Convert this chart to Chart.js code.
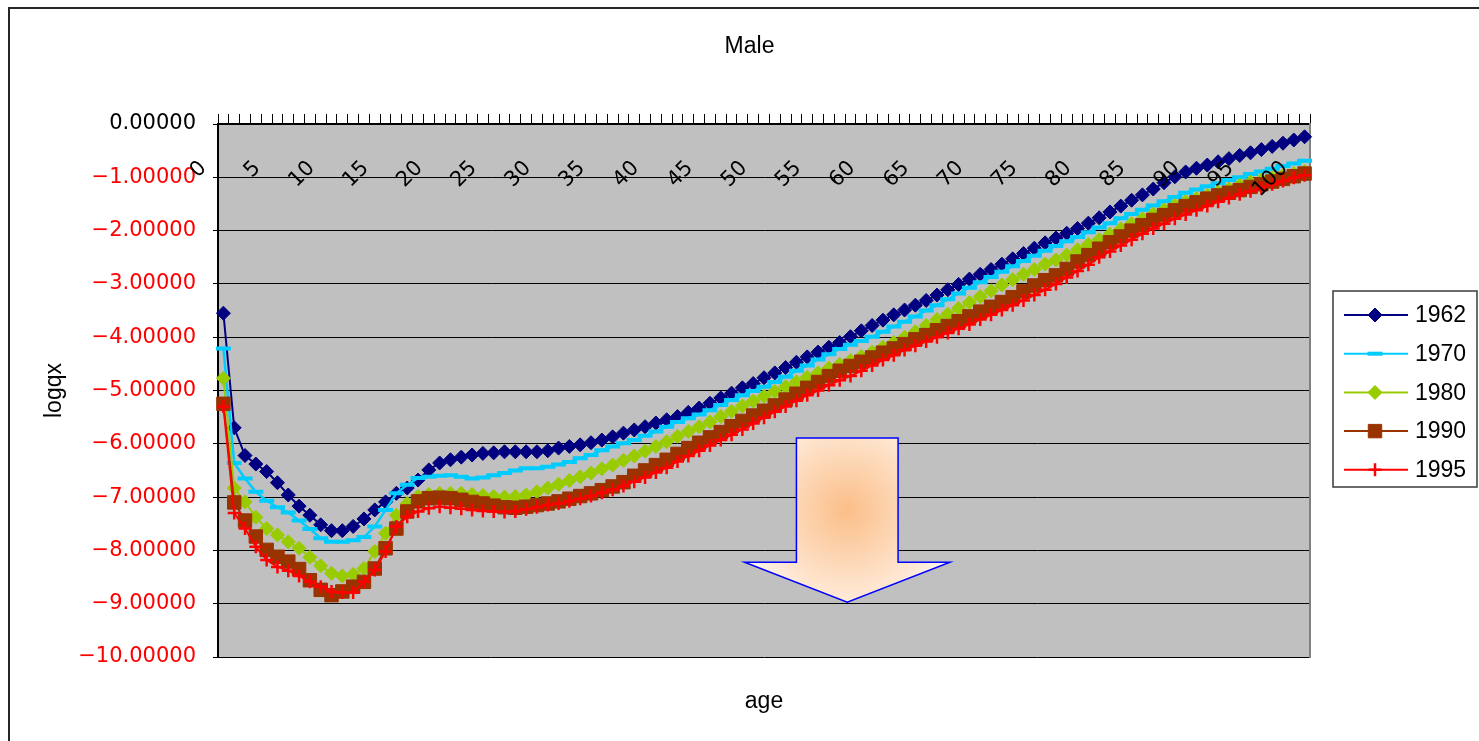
<!DOCTYPE html>
<html>
<head>
<meta charset="utf-8">
<title>Male logqx by age</title>
<script src="https://cdn.jsdelivr.net/npm/chart.js@4/dist/chart.umd.min.js"></script>
<style>
  html, body { margin: 0; padding: 0; background: #ffffff; overflow: hidden; width: 1479px; height: 741px; }
  #wrap { position: relative; width: 1479px; height: 741px; }
  #wrap canvas { position: absolute; left: 0; top: 0; }
  #frame { position: absolute; left: 8px; top: 7px; width: 1520px; height: 780px;
           border: 2px solid #262626; box-sizing: border-box; pointer-events: none; }
</style>
</head>
<body>
<div id="wrap">
  <canvas id="chart" width="1479" height="741"></canvas>
  <div id="frame"></div>
</div>
<script>
// Ages (categories)
const ages = [
  0, 1, 2, 3, 4, 5, 6, 7, 8, 9, 10, 11, 12, 13, 14, 15, 16, 17, 18, 19,
  20, 21, 22, 23, 24, 25, 26, 27, 28, 29, 30, 31, 32, 33, 34, 35, 36, 37, 38, 39,
  40, 41, 42, 43, 44, 45, 46, 47, 48, 49, 50, 51, 52, 53, 54, 55, 56, 57, 58, 59,
  60, 61, 62, 63, 64, 65, 66, 67, 68, 69, 70, 71, 72, 73, 74, 75, 76, 77, 78, 79,
  80, 81, 82, 83, 84, 85, 86, 87, 88, 89, 90, 91, 92, 93, 94, 95, 96, 97, 98, 99,
  100
];

// Ages that carry a label on the age axis
const xLabelAges = [0, 5, 10, 15, 20, 25, 30, 35, 40, 45, 50, 55, 60, 65, 70, 75, 80, 85, 90, 95, 100];

// logqx axis ticks
const yTickValues = [0, -1, -2, -3, -4, -5, -6, -7, -8, -9, -10];

// Series names
const years = ['1962', '1970', '1980', '1990', '1995'];

// logqx values per age
const logqx1962 = [
  -3.55, -5.70, -6.22, -6.38, -6.52, -6.73, -6.96, -7.17, -7.34, -7.52,
  -7.63, -7.63, -7.55, -7.41, -7.24, -7.09, -6.93, -6.83, -6.68, -6.49,
  -6.36, -6.30, -6.25, -6.21, -6.18, -6.17, -6.15, -6.15, -6.15, -6.15,
  -6.13, -6.08, -6.05, -6.02, -5.98, -5.93, -5.87, -5.80, -5.74, -5.68,
  -5.61, -5.55, -5.49, -5.41, -5.33, -5.24, -5.14, -5.05, -4.95, -4.87,
  -4.76, -4.67, -4.57, -4.47, -4.37, -4.28, -4.19, -4.10, -3.99, -3.88,
  -3.78, -3.68, -3.58, -3.49, -3.40, -3.31, -3.21, -3.11, -3.01, -2.91,
  -2.82, -2.73, -2.63, -2.53, -2.43, -2.33, -2.23, -2.14, -2.05, -1.96,
  -1.86, -1.76, -1.65, -1.54, -1.43, -1.33, -1.22, -1.10, -0.99, -0.90,
  -0.83, -0.77, -0.71, -0.65, -0.59, -0.54, -0.48, -0.42, -0.36, -0.30,
  -0.24
];
const logqx1970 = [
  -4.21, -6.36, -6.65, -6.90, -7.07, -7.19, -7.29, -7.44, -7.60, -7.77,
  -7.84, -7.84, -7.81, -7.75, -7.55, -7.24, -6.93, -6.77, -6.64, -6.62,
  -6.60, -6.59, -6.62, -6.65, -6.63, -6.59, -6.55, -6.50, -6.46, -6.46,
  -6.43, -6.39, -6.34, -6.27, -6.21, -6.12, -6.05, -5.99, -5.93, -5.85,
  -5.77, -5.68, -5.59, -5.52, -5.45, -5.37, -5.27, -5.18, -5.09, -5.01,
  -4.93, -4.84, -4.74, -4.63, -4.53, -4.42, -4.32, -4.22, -4.14, -4.07,
  -3.99, -3.90, -3.80, -3.71, -3.61, -3.50, -3.40, -3.29, -3.18, -3.07,
  -2.97, -2.87, -2.77, -2.67, -2.57, -2.47, -2.38, -2.29, -2.20, -2.12,
  -2.03, -1.94, -1.86, -1.77, -1.69, -1.61, -1.53, -1.45, -1.37, -1.29,
  -1.23, -1.17, -1.11, -1.05, -1.00, -0.94, -0.89, -0.84, -0.79, -0.74,
  -0.69
];
const logqx1980 = [
  -4.77, -6.83, -7.09, -7.38, -7.59, -7.71, -7.84, -7.96, -8.13, -8.29,
  -8.43, -8.48, -8.45, -8.34, -8.02, -7.68, -7.34, -7.12, -6.99, -6.95,
  -6.93, -6.93, -6.93, -6.95, -6.97, -6.99, -7.00, -6.99, -6.96, -6.90,
  -6.83, -6.76, -6.69, -6.62, -6.55, -6.47, -6.40, -6.31, -6.23, -6.14,
  -6.05, -5.96, -5.86, -5.77, -5.68, -5.59, -5.49, -5.39, -5.29, -5.20,
  -5.11, -5.02, -4.93, -4.84, -4.75, -4.67, -4.58, -4.51, -4.44, -4.36,
  -4.28, -4.19, -4.10, -4.00, -3.90, -3.78, -3.67, -3.57, -3.46, -3.35,
  -3.24, -3.13, -3.02, -2.92, -2.82, -2.73, -2.63, -2.55, -2.46, -2.36,
  -2.26, -2.17, -2.07, -1.97, -1.87, -1.78, -1.69, -1.61, -1.53, -1.46,
  -1.40, -1.34, -1.28, -1.22, -1.15, -1.09, -1.05, -1.01, -0.97, -0.93,
  -0.89
];
const logqx1990 = [
  -5.25, -7.10, -7.44, -7.74, -7.99, -8.12, -8.21, -8.35, -8.56, -8.74,
  -8.84, -8.77, -8.68, -8.59, -8.34, -7.96, -7.59, -7.27, -7.08, -7.02,
  -7.01, -7.02, -7.05, -7.09, -7.12, -7.16, -7.19, -7.20, -7.18, -7.15,
  -7.12, -7.08, -7.03, -6.98, -6.93, -6.87, -6.80, -6.72, -6.60, -6.50,
  -6.40, -6.30, -6.19, -6.08, -5.98, -5.88, -5.78, -5.67, -5.57, -5.47,
  -5.38, -5.28, -5.17, -5.06, -4.95, -4.84, -4.73, -4.63, -4.54, -4.46,
  -4.38, -4.29, -4.21, -4.13, -4.04, -3.96, -3.87, -3.79, -3.70, -3.61,
  -3.52, -3.43, -3.34, -3.25, -3.14, -3.03, -2.93, -2.84, -2.72, -2.58,
  -2.46, -2.34, -2.22, -2.11, -2.00, -1.90, -1.80, -1.71, -1.62, -1.54,
  -1.47, -1.40, -1.34, -1.29, -1.24, -1.18, -1.13, -1.08, -1.03, -0.98,
  -0.93
];
const logqx1995 = [
  -5.30, -7.30, -7.59, -7.93, -8.18, -8.31, -8.38, -8.48, -8.59, -8.68,
  -8.77, -8.79, -8.79, -8.59, -8.37, -8.02, -7.55, -7.37, -7.27, -7.21,
  -7.18, -7.20, -7.22, -7.24, -7.26, -7.27, -7.28, -7.27, -7.23, -7.19,
  -7.15, -7.12, -7.08, -7.03, -6.98, -6.92, -6.86, -6.79, -6.71, -6.63,
  -6.54, -6.45, -6.33, -6.23, -6.13, -6.03, -5.93, -5.83, -5.73, -5.62,
  -5.51, -5.40, -5.30, -5.19, -5.09, -5.00, -4.90, -4.81, -4.73, -4.63,
  -4.53, -4.43, -4.34, -4.24, -4.16, -4.08, -4.00, -3.92, -3.84, -3.76,
  -3.67, -3.58, -3.49, -3.40, -3.31, -3.21, -3.11, -3.00, -2.88, -2.76,
  -2.64, -2.50, -2.39, -2.28, -2.17, -2.06, -1.96, -1.87, -1.78, -1.70,
  -1.62, -1.54, -1.46, -1.39, -1.32, -1.26, -1.20, -1.13, -1.07, -1.01,
  -0.96
];

const seriesValues = [logqx1962, logqx1970, logqx1980, logqx1990, logqx1995];

// Line and marker style for each year
const seriesStyles = [
  { color: '#000080', pointStyle: 'rectRot', radius: 7,   lineWidth: 2,   markerBorder: 1 },
  { color: '#00CCFF', pointStyle: 'line',    radius: 7.5, lineWidth: 2.5, markerBorder: 4 },
  { color: '#99CC00', pointStyle: 'rectRot', radius: 7,   lineWidth: 2,   markerBorder: 1 },
  { color: '#993300', pointStyle: 'rect',    radius: 9.5, lineWidth: 2,   markerBorder: 1 },
  { color: '#FF0000', pointStyle: 'cross',   radius: 6.5, lineWidth: 2,   markerBorder: 2.5 }
];

// Down arrow, in axis units (age, logqx)
const arrowShape = {
  bodyLeft: 53, bodyRight: 62.4, wingLeft: 48.2, wingRight: 67.2, tipAge: 57.7,
  top: -5.89, shoulder: -8.22, tip: -8.97
};

const TICK_FONT = 'DejaVu Sans';
const TEXT_FONT = 'Liberation Sans';

// Grey plot area
const plotBackground = {
  id: 'plotBackground',
  beforeDraw(chart) {
    const { ctx, chartArea: a } = chart;
    ctx.save();
    ctx.fillStyle = '#C0C0C0';
    ctx.fillRect(a.left, a.top, a.right - a.left, a.bottom - a.top);
    ctx.restore();
  }
};

// Down arrow with a warm radial fill
const downArrow = {
  id: 'downArrow',
  afterDatasetsDraw(chart) {
    const { ctx } = chart;
    const xs = chart.scales.x, ys = chart.scales.y;
    const s = arrowShape;
    const bl = xs.getPixelForValue(s.bodyLeft), br = xs.getPixelForValue(s.bodyRight);
    const wl = xs.getPixelForValue(s.wingLeft), wr = xs.getPixelForValue(s.wingRight);
    const tx = xs.getPixelForValue(s.tipAge);
    const yt = ys.getPixelForValue(s.top), yh = ys.getPixelForValue(s.shoulder), yp = ys.getPixelForValue(s.tip);
    ctx.save();
    ctx.beginPath();
    ctx.moveTo(bl, yt);
    ctx.lineTo(br, yt);
    ctx.lineTo(br, yh);
    ctx.lineTo(wr, yh);
    ctx.lineTo(tx, yp);
    ctx.lineTo(wl, yh);
    ctx.lineTo(bl, yh);
    ctx.closePath();
    const cx = (bl + br) / 2, cy = (yt + yh) / 2 + 10;
    const g = ctx.createRadialGradient(cx, cy, 0, cx, cy, 115);
    g.addColorStop(0, '#FBBE88');
    g.addColorStop(0.5, '#FDDABB');
    g.addColorStop(1, '#FFF6EE');
    ctx.fillStyle = g;
    ctx.fill();
    ctx.strokeStyle = '#0000FF';
    ctx.lineWidth = 1.5;
    ctx.stroke();
    ctx.restore();
  }
};

// Slanted age labels just under the top axis
const ageLabels = {
  id: 'ageLabels',
  afterDatasetsDraw(chart) {
    const { ctx, chartArea: a } = chart;
    const xs = chart.scales.x;
    ctx.save();
    ctx.fillStyle = '#000000';
    ctx.font = '21px "' + TICK_FONT + '"';
    ctx.textAlign = 'right';
    ctx.textBaseline = 'middle';
    xLabelAges.forEach(age => {
      const idx = ages.indexOf(age);
      const px = xs.getPixelForValue(idx);
      ctx.save();
      ctx.translate(px - 20, a.top + 41);
      ctx.rotate(-Math.PI / 4);
      ctx.fillText(String(age), 0, 0);
      ctx.restore();
    });
    ctx.restore();
  }
};

// Boxed key: line segment with marker, then the year
function drawMarker(ctx, style, x, y) {
  const opts = { pointStyle: style.pointStyle, radius: style.radius, rotation: 0, borderWidth: style.markerBorder };
  if (Chart.helpers && Chart.helpers.drawPoint) {
    Chart.helpers.drawPoint(ctx, opts, x, y);
    return;
  }
  const r = style.radius;
  ctx.beginPath();
  if (style.pointStyle === 'rectRot') {
    ctx.moveTo(x - r, y); ctx.lineTo(x, y - r); ctx.lineTo(x + r, y); ctx.lineTo(x, y + r); ctx.closePath();
    ctx.fill(); ctx.stroke();
  } else if (style.pointStyle === 'rect') {
    const h = r * Math.SQRT1_2;
    ctx.rect(x - h, y - h, 2 * h, 2 * h); ctx.fill(); ctx.stroke();
  } else if (style.pointStyle === 'line') {
    ctx.moveTo(x - r, y); ctx.lineTo(x + r, y); ctx.stroke();
  } else {
    ctx.moveTo(x - r, y); ctx.lineTo(x + r, y); ctx.moveTo(x, y - r); ctx.lineTo(x, y + r); ctx.stroke();
  }
}

const seriesKey = {
  id: 'seriesKey',
  afterDraw(chart) {
    const { ctx, chartArea: a } = chart;
    const w = 144, h = 196;
    const left = a.right + 23;
    const top = (a.top + a.bottom) / 2 - h / 2 - 1.5;
    ctx.save();
    ctx.fillStyle = '#ffffff';
    ctx.fillRect(left, top, w, h);
    ctx.strokeStyle = '#3a3a3a';
    ctx.lineWidth = 1.5;
    ctx.strokeRect(left, top, w, h);
    years.forEach((label, i) => {
      const st = seriesStyles[i];
      const y = top + 24 + i * 38.7;
      ctx.strokeStyle = st.color;
      ctx.lineWidth = 2;
      ctx.beginPath();
      ctx.moveTo(left + 11, y);
      ctx.lineTo(left + 75, y);
      ctx.stroke();
      ctx.fillStyle = st.color;
      ctx.strokeStyle = st.color;
      ctx.lineWidth = st.markerBorder;
      drawMarker(ctx, st, left + 42, y);
      ctx.fillStyle = '#000000';
      ctx.font = '23px "' + TEXT_FONT + '"';
      ctx.textAlign = 'left';
      ctx.textBaseline = 'middle';
      ctx.fillText(label, left + 82, y + 1);
    });
    ctx.restore();
  }
};

Chart.defaults.font.family = TICK_FONT;
Chart.defaults.color = '#000000';

const datasets = years.map((label, i) => {
  const st = seriesStyles[i];
  return {
    label: label,
    data: seriesValues[i],
    xAxisID: 'x',
    yAxisID: 'y',
    borderColor: st.color,
    backgroundColor: st.color,
    borderWidth: st.lineWidth,
    pointStyle: st.pointStyle,
    pointRadius: st.radius,
    pointBackgroundColor: st.color,
    pointBorderColor: st.color,
    pointBorderWidth: st.markerBorder,
    tension: 0,
    fill: false,
    order: years.length - i
  };
});

new Chart(document.getElementById('chart'), {
  type: 'line',
  data: { labels: ages, datasets: datasets },
  options: {
    responsive: false,
    animation: false,
    devicePixelRatio: 1,
    events: [],
    layout: { padding: { left: 20, right: 0, top: 0, bottom: 0 } },
    plugins: {
      legend: { display: false },
      tooltip: { enabled: false },
      title: {
        display: true,
        text: 'Male',
        color: '#000000',
        font: { family: TEXT_FONT, size: 23, weight: 'normal' },
        padding: { top: 33, bottom: 8.2 }
      }
    },
    scales: {
      x: {
        type: 'category',
        position: 'top',
        offset: true,
        grid: { offset: true, drawOnChartArea: false, drawTicks: true, tickLength: 10, color: '#000000', lineWidth: 1 },
        border: { display: true, color: '#000000', width: 2 },
        ticks: { display: false },
        afterFit(scale) { scale.height = 55.2; }
      },
      xb: {
        type: 'linear',
        position: 'bottom',
        display: true,
        grid: { display: false },
        ticks: { display: false },
        border: { display: false },
        title: {
          display: true,
          text: 'age',
          color: '#000000',
          font: { family: TEXT_FONT, size: 23, weight: 'normal' },
          padding: { top: 0, bottom: 25.4 }
        },
        afterFit(scale) { scale.height = 84; }
      },
      y: {
        type: 'linear',
        position: 'left',
        min: -10,
        max: 0,
        afterBuildTicks(scale) { scale.ticks = yTickValues.map(v => ({ value: v })); },
        grid: { color: '#000000', lineWidth: 1, drawTicks: true, tickLength: 5 },
        border: { display: true, color: '#000000', width: 2 },
        ticks: {
          font: { family: TICK_FONT, size: 21 },
          padding: 17,
          color: c => (c.tick && c.tick.value < 0) ? '#FF0000' : '#000000',
          callback: v => (v < 0 ? '\u2212' : '') + Math.abs(v).toFixed(5)
        },
        title: {
          display: true,
          text: 'logqx',
          color: '#000000',
          font: { family: TEXT_FONT, size: 23, weight: 'normal' },
          padding: { top: 21.2, bottom: 0 }
        },
        afterFit(scale) { scale.width = 198; }
      },
      yr: {
        type: 'linear',
        position: 'right',
        display: true,
        grid: { display: false },
        ticks: { display: false },
        border: { display: true, color: '#808080', width: 2 },
        afterFit(scale) { scale.width = 169; }
      }
    }
  },
  plugins: [plotBackground, downArrow, ageLabels, seriesKey]
});
</script>
</body>
</html>
